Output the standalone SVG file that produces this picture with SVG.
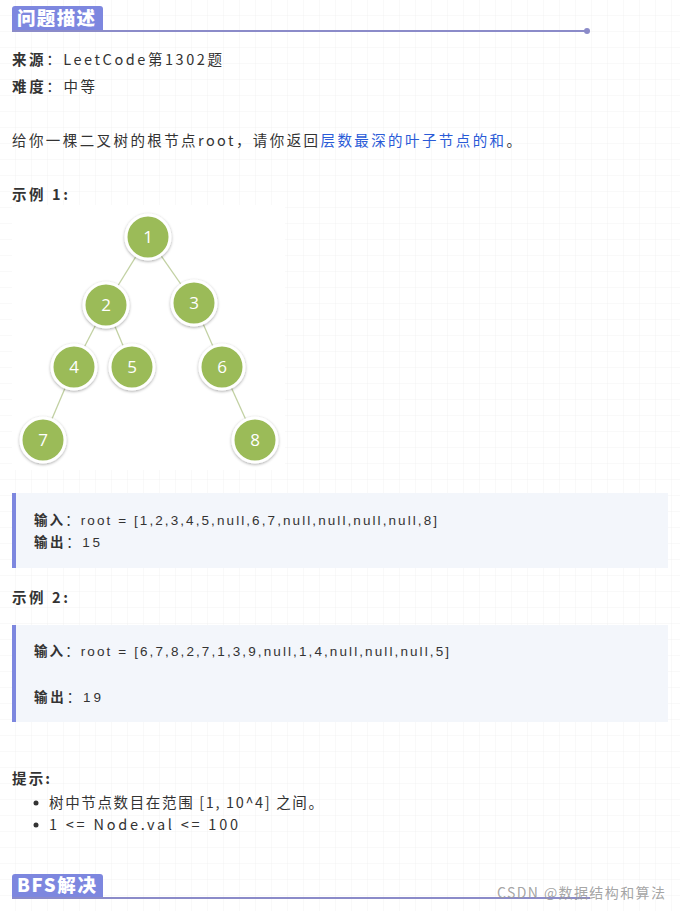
<svg xmlns="http://www.w3.org/2000/svg" width="680" height="911" viewBox="0 0 680 911">
<defs>
<pattern id="grid" width="16" height="16" patternUnits="userSpaceOnUse">
<path d="M16 0V16M0 16H16" fill="none" stroke="#f2f2f2" stroke-width="1"/>
</pattern>
<filter id="sh" x="-30%" y="-30%" width="160%" height="160%">
<feDropShadow dx="0" dy="1" stdDeviation="1.6" flood-color="#000" flood-opacity="0.35"/>
</filter>
</defs>
<style>
.t{font-family:"Noto Sans CJK SC","Liberation Sans",sans-serif;font-size:14.5px;fill:#333}
.b{font-weight:bold}
.c{font-family:"Liberation Sans","Noto Sans CJK SC",sans-serif;font-size:13.5px;fill:#333}
.h{font-family:"Noto Sans CJK SC",sans-serif;font-size:18.5px;font-weight:900;fill:#fff}
.node circle{fill:#9bbb59;stroke:#fff;stroke-width:3;filter:url(#sh)}
.node text{font-family:"Open Sans","Liberation Sans",sans-serif;font-size:17px;fill:#fff;text-anchor:middle}
.edge{stroke:#c2d1a3;stroke-width:1.3}
.blk{fill:#f3f6fb}
.bar{fill:#7d87df}
</style>
<rect width="680" height="911" fill="#fff"/>
<rect width="680" height="911" fill="url(#grid)"/>

<g id="header1">
<path d="M12 31V9a3 3 0 0 1 3-3H100a3 3 0 0 1 3 3V31Z" fill="#7d87df"/>
<text class="h" x="17" y="25" textLength="78">问题描述</text>
<line x1="12" y1="31" x2="587" y2="31" stroke="#8b8bc9" stroke-width="2"/>
<circle cx="587" cy="31" r="3" fill="#8b8bc9"/>
</g>

<text class="t" x="12" y="65" textLength="210"><tspan class="b">来源</tspan>：LeetCode第1302题</text>
<text class="t" x="12" y="92" textLength="83"><tspan class="b">难度</tspan>：中等</text>
<text class="t" x="12" y="146" textLength="509">给你一棵二叉树的根节点root，请你返回<tspan fill="#2a5bd7">层数最深的叶子节点的和</tspan>。</text>
<text class="t b" x="12" y="200" textLength="56">示例 1:</text>

<rect x="12" y="205" width="273" height="265" fill="#fff"/>
<g id="connectors">
<line class="edge" x1="148" y1="237" x2="106" y2="305"/>
<line class="edge" x1="148" y1="237" x2="194" y2="303"/>
<line class="edge" x1="106" y1="305" x2="74" y2="367"/>
<line class="edge" x1="106" y1="305" x2="132" y2="367"/>
<line class="edge" x1="194" y1="303" x2="222" y2="367"/>
<line class="edge" x1="74" y1="367" x2="43" y2="440"/>
<line class="edge" x1="222" y1="367" x2="255" y2="440"/>
</g>
<g id="n1" class="node"><circle cx="148" cy="237" r="22"/><text x="148" y="243">1</text></g>
<g id="n2" class="node"><circle cx="106" cy="305" r="22"/><text x="106" y="311">2</text></g>
<g id="n3" class="node"><circle cx="194" cy="303" r="22"/><text x="194" y="309">3</text></g>
<g id="n4" class="node"><circle cx="74" cy="367" r="22"/><text x="74" y="373">4</text></g>
<g id="n5" class="node"><circle cx="132" cy="367" r="22"/><text x="132" y="373">5</text></g>
<g id="n6" class="node"><circle cx="222" cy="367" r="22"/><text x="222" y="373">6</text></g>
<g id="n7" class="node"><circle cx="43" cy="440" r="22"/><text x="43" y="446">7</text></g>
<g id="n8" class="node"><circle cx="255" cy="440" r="22"/><text x="255" y="446">8</text></g>

<g id="block1">
<rect class="blk" x="12" y="493" width="656" height="75"/>
<rect class="bar" x="12" y="493" width="4" height="75"/>
<text class="c" x="34" y="525" textLength="403"><tspan class="b">输入</tspan>：root = [1,2,3,4,5,null,6,7,null,null,null,null,8]</text>
<text class="c" x="34" y="547" textLength="66"><tspan class="b">输出</tspan>：15</text>
</g>

<text class="t b" x="12" y="603" textLength="56">示例 2:</text>

<g id="block2">
<rect class="blk" x="12" y="625" width="656" height="97"/>
<rect class="bar" x="12" y="625" width="4" height="97"/>
<text class="c" x="34" y="656" textLength="415"><tspan class="b">输入</tspan>：root = [6,7,8,2,7,1,3,9,null,1,4,null,null,null,5]</text>
<text class="c" x="34" y="702" textLength="67"><tspan class="b">输出</tspan>：19</text>
</g>

<text class="t b" x="12" y="784" textLength="38">提示:</text>
<circle cx="36" cy="803" r="2.5" fill="#333"/>
<text class="t" x="49" y="808" textLength="274">树中节点数目在范围 [1, 10^4] 之间。</text>
<circle cx="36" cy="825" r="2.5" fill="#333"/>
<text class="t" x="49" y="830" textLength="189">1 &lt;= Node.val &lt;= 100</text>

<g id="header2">
<path d="M12 898V877a3 3 0 0 1 3-3H100a3 3 0 0 1 3 3V898Z" fill="#7d87df"/>
<text class="h" x="17" y="892" textLength="79">BFS解决</text>
<line x1="12" y1="898" x2="590" y2="898" stroke="#8b8bc9" stroke-width="2"/>
</g>
<text x="497" y="898" textLength="168" style="font-family:'Noto Sans CJK SC',sans-serif;font-size:14px;fill:#9a9a9a;fill-opacity:0.9">CSDN @数据结构和算法</text>
</svg>
